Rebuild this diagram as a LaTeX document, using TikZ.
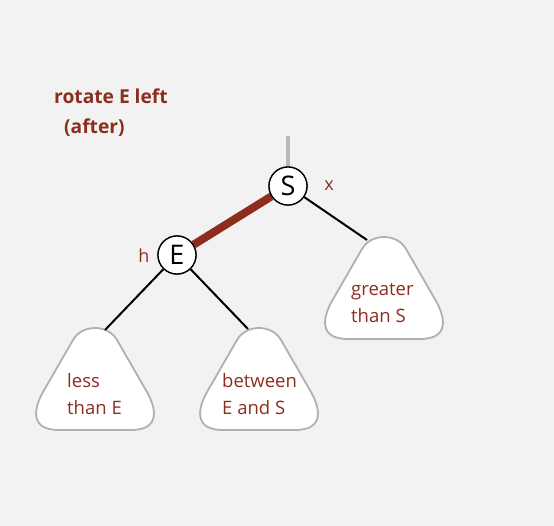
\documentclass[tikz,border=0pt]{standalone}
\usepackage{fontspec}
\setmainfont{Open Sans}
\definecolor{bg}{HTML}{F2F2F2}
\definecolor{txtred}{RGB}{140,45,30}
\definecolor{linkred}{RGB}{140,45,30}
\definecolor{trigray}{RGB}{176,176,176}
\definecolor{stemgray}{RGB}{185,185,185}
\begin{document}
\begin{tikzpicture}[x=1pt,y=-1pt,
  keynode/.style={circle,draw=black,line width=1.3pt,fill=white,minimum size=38pt,inner sep=0pt,font=\fontsize{27}{27}\selectfont},
  lbl/.style={text=txtred,font=\fontsize{18}{18}\selectfont},
  trilbl/.style={text=txtred,font=\fontsize{18.5}{27}\selectfont,align=left,anchor=west,inner sep=0pt},
  tri/.style={draw=trigray,line width=1.8pt,fill=white},
  edge/.style={line width=2pt,black},
  redlink/.style={line width=8pt,linkred},
  stem/.style={line width=4pt,stemgray}
]
\fill[bg] (0,0) rectangle (554,526);
\useasboundingbox (0,0) rectangle (554,526);

\node[text=txtred,font=\bfseries\fontsize{19.2}{30}\selectfont,align=left,anchor=north west,inner sep=0pt] (title) at (54,89) {rotate E left\\\hspace{10pt}(after)};

% triangles
\foreach \cx/\ty in {95/328, 259/328, 384/237}{
  \draw[tri] (\cx-22,\ty+12) .. controls (\cx-13,\ty-4) and (\cx+13,\ty-4) .. (\cx+22,\ty+12)
    -- (\cx+52,\ty+64) .. controls (\cx+61,\ty+80) and (\cx+66,\ty+102) .. (\cx+36,\ty+102)
    -- (\cx-36,\ty+102) .. controls (\cx-66,\ty+102) and (\cx-61,\ty+80) .. (\cx-52,\ty+64)
    -- cycle;
}
\coordinate (tl) at (105,330);
\coordinate (tm) at (248,329);
\coordinate (tr) at (367,240);
\coordinate (top) at (288,136);

\node[keynode] (S) at (288,186) {S};
\node[keynode] (E) at (177,255) {E};

\draw[stem] (top) -- (S.north);
\draw[redlink] (E) -- (S);
\draw[edge] (S) -- (tr);
\draw[edge] (E) -- (tl);
\draw[edge] (E) -- (tm);
\node[keynode] at (S) {S};
\node[keynode] at (E) {E};

\node[lbl] (x) at (329,186) {x};
\node[lbl] (h) at (144,256) {h};

\node[trilbl] (l1) at (67,394) {less\\than E};
\node[trilbl] (l2) at (222,394) {between\\E and S};
\node[trilbl] (l3) at (351,303) {greater\\than S};
\end{tikzpicture}
\end{document}
